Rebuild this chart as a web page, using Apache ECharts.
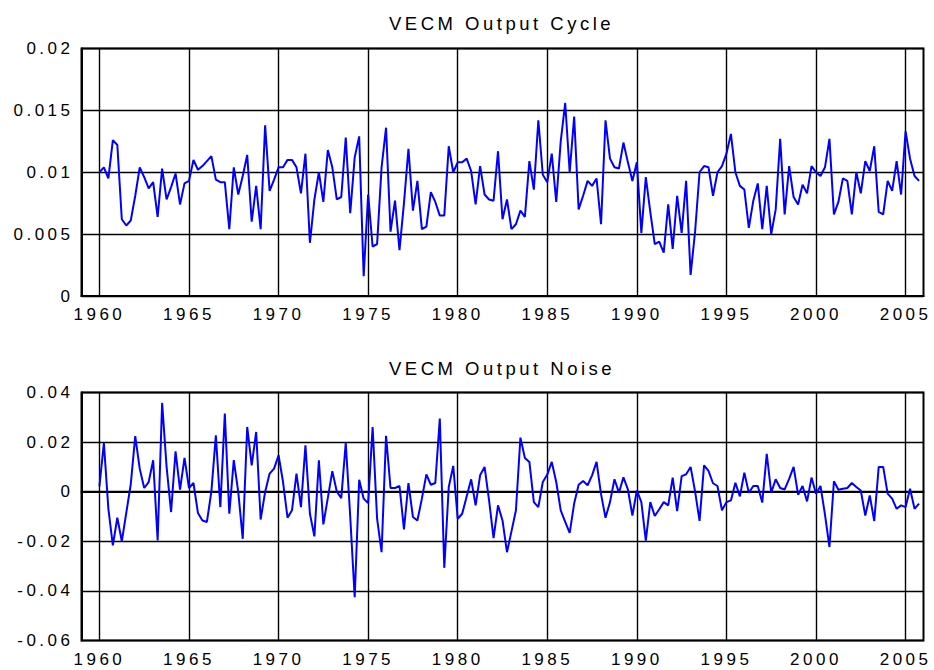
<!DOCTYPE html>
<html>
<head>
<meta charset="utf-8">
<title>VECM Output</title>
<script src="https://cdn.jsdelivr.net/npm/echarts@6/dist/echarts.min.js"></script>
<style>
	html, body { margin: 0; padding: 0; background: #fff; }
	#chart { width: 934px; height: 670px; }
	/* the original plot uses widely spaced glyphs */
	#chart text { letter-spacing: 3.5px; }
</style>
</head>
<body>
<div id="chart"></div>
<script>
// quarterly data, first point 1960Q1
var startYear = 1960;
var yearTicks = [1960, 1965, 1970, 1975, 1980, 1985, 1990, 1995, 2000, 2005];

// VECM output cycle
var cycle = [
	0.0100, 0.0104, 0.0095, 0.0126, 0.0122, 0.0062, 0.0057, 0.0061, 0.0081, 0.0104,
	0.0096, 0.0087, 0.0092, 0.0064, 0.0103, 0.0078, 0.0088, 0.0099, 0.0074, 0.0091,
	0.0093, 0.0110, 0.0102, 0.0105, 0.0109, 0.0113, 0.0094, 0.0092, 0.0092, 0.0054,
	0.0104, 0.0082, 0.0097, 0.0114, 0.0060, 0.0089, 0.0054, 0.0138, 0.0085, 0.0094,
	0.0104, 0.0104, 0.0110, 0.0110, 0.0104, 0.0083, 0.0115, 0.0043, 0.0078, 0.0100,
	0.0076, 0.0118, 0.0104, 0.0078, 0.0080, 0.0128, 0.0067, 0.0112, 0.0129, 0.0016,
	0.0082, 0.0040, 0.0042, 0.0104, 0.0136, 0.0052, 0.0077, 0.0037, 0.0075, 0.0119,
	0.0069, 0.0093, 0.0054, 0.0056, 0.0084, 0.0076, 0.0065, 0.0065, 0.0121, 0.0100,
	0.0108, 0.0108, 0.0111, 0.0101, 0.0074, 0.0105, 0.0082, 0.0078, 0.0077, 0.0117,
	0.0062, 0.0078, 0.0054, 0.0058, 0.0069, 0.0064, 0.0109, 0.0086, 0.0142, 0.0098,
	0.0092, 0.0115, 0.0076, 0.0125, 0.0156, 0.0100, 0.0145, 0.0070, 0.0081, 0.0093,
	0.0089, 0.0095, 0.0058, 0.0142, 0.0111, 0.0104, 0.0103, 0.0124, 0.0108, 0.0093,
	0.0108, 0.0051, 0.0096, 0.0068, 0.0042, 0.0044, 0.0035, 0.0074, 0.0038, 0.0081,
	0.0051, 0.0093, 0.0017, 0.0052, 0.0100, 0.0105, 0.0104, 0.0081, 0.0100, 0.0105,
	0.0115, 0.0131, 0.0100, 0.0089, 0.0086, 0.0055, 0.0077, 0.0091, 0.0054, 0.0089,
	0.0050, 0.0070, 0.0127, 0.0066, 0.0105, 0.0080, 0.0074, 0.0090, 0.0083, 0.0105,
	0.0100, 0.0097, 0.0104, 0.0127, 0.0066, 0.0076, 0.0095, 0.0093, 0.0066, 0.0100,
	0.0083, 0.0109, 0.0101, 0.0121, 0.0068, 0.0066, 0.0093, 0.0085, 0.0109, 0.0082,
	0.0133, 0.0111, 0.0097, 0.0093
];

// VECM output noise
var noise = [
	0.0022, 0.0196, -0.0069, -0.0216, -0.0105, -0.0200, -0.0085, 0.0030, 0.0224, 0.0093,
	0.0015, 0.0039, 0.0127, -0.0197, 0.0358, 0.0100, -0.0082, 0.0163, 0.0008, 0.0136,
	0.0015, 0.0035, -0.0086, -0.0116, -0.0122, 0.0001, 0.0227, -0.0062, 0.0315, -0.0089,
	0.0127, -0.0001, -0.0190, 0.0261, 0.0106, 0.0241, -0.0112, -0.0001, 0.0073, 0.0093,
	0.0147, 0.0039, -0.0105, -0.0075, 0.0073, -0.0062, 0.0187, -0.0089, -0.0180, 0.0127,
	-0.0132, -0.0025, 0.0083, 0.0001, -0.0026, 0.0197, -0.0100, -0.0425, 0.0048, -0.0028,
	-0.0046, 0.0261, -0.0109, -0.0244, 0.0225, 0.0015, 0.0015, 0.0023, -0.0152, 0.0035,
	-0.0102, -0.0116, -0.0028, 0.0070, 0.0028, 0.0035, 0.0295, -0.0307, 0.0019, 0.0104,
	-0.0109, -0.0089, -0.0019, 0.0050, -0.0055, 0.0066, 0.0100, -0.0035, -0.0187, -0.0055,
	-0.0116, -0.0244, -0.0160, -0.0075, 0.0218, 0.0136, 0.0120, -0.0042, -0.0062, 0.0039,
	0.0069, 0.0120, 0.0039, -0.0075, -0.0122, -0.0166, -0.0048, 0.0028, 0.0043, 0.0026,
	0.0066, 0.0120, -0.0010, -0.0105, -0.0042, 0.0050, -0.0004, 0.0058, 0.0009, -0.0096,
	0.0005, -0.0042, -0.0197, -0.0042, -0.0098, -0.0071, -0.0042, -0.0055, 0.0057, -0.0078,
	0.0063, 0.0070, 0.0100, 0.0001, -0.0118, 0.0106, 0.0084, 0.0034, 0.0023, -0.0075,
	-0.0042, -0.0035, 0.0036, -0.0019, 0.0077, -0.0004, 0.0023, 0.0023, -0.0044, 0.0153,
	-0.0004, 0.0050, 0.0015, 0.0009, 0.0052, 0.0100, -0.0012, 0.0023, -0.0039, 0.0057,
	-0.0008, 0.0023, -0.0092, -0.0223, 0.0042, 0.0008, 0.0012, 0.0015, 0.0035, 0.0019,
	0.0005, -0.0096, -0.0015, -0.0118, 0.0100, 0.0100, -0.0008, -0.0028, -0.0069, -0.0055,
	-0.0062, 0.0012, -0.0069, -0.0048
];

// pair each value with its date (year + quarter/4)
function toPairs(arr) {
	var out = [];
	for(var i = 0; i < arr.length; i++) {
		out.push([startYear + i / 4, arr[i]]);
	}
	return out;
}

var font = 'Liberation Sans';

function xAxisFor(idx) {
	return {
		type: 'value',
		gridIndex: idx,
		min: 1959,
		max: 2006,
		axisLine: { show: true, lineStyle: { color: '#000', width: 2 } },
		axisTick: { show: false, customValues: yearTicks },
		axisLabel: {
			customValues: yearTicks,
			formatter: function(v) { return String(v); }, // no thousands comma
			margin: 10,
			color: '#000',
			fontSize: 17,
			fontFamily: font
		},
		splitLine: { show: true, lineStyle: { color: '#000', width: 1.4 } }
	};
}

function yAxisFor(idx, min, max, step) {
	return {
		type: 'value',
		gridIndex: idx,
		min: min,
		max: max,
		interval: step,
		axisLine: { show: true, lineStyle: { color: '#000', width: 2 } },
		axisTick: { show: false },
		axisLabel: {
			margin: 8,
			color: '#000',
			fontSize: 17,
			fontFamily: font
		},
		splitLine: { show: true, lineStyle: { color: '#000', width: 1.4 } }
	};
}

var myChart = echarts.init(document.getElementById('chart'), null, { renderer: 'svg' });
var option = {
	animation: false,
	backgroundColor: '#fff',
	title: [{
		text: 'VECM Output Cycle',
		left: 384,
		top: 9,
		textStyle: { color: '#000', fontSize: 18.5, fontWeight: 'normal', fontFamily: font }
	}, {
		text: 'VECM Output Noise',
		left: 384,
		top: 354,
		textStyle: { color: '#000', fontSize: 18.5, fontWeight: 'normal', fontFamily: font }
	}],
	grid: [{
		left: 81.5,
		right: 10.5,
		top: 48.5,
		height: 247.5,
		show: true,
		borderColor: '#000',
		borderWidth: 2
	}, {
		left: 81.5,
		right: 10.5,
		top: 392.5,
		height: 248,
		show: true,
		borderColor: '#000',
		borderWidth: 2
	}],
	xAxis: [xAxisFor(0), xAxisFor(1)],
	yAxis: [
		yAxisFor(0, 0, 0.02, 0.005),
		yAxisFor(1, -0.06, 0.04, 0.02)
	],
	series: [{
		name: 'VECM Output Cycle',
		type: 'line',
		xAxisIndex: 0,
		yAxisIndex: 0,
		showSymbol: false,
		lineStyle: { color: '#0000ff', width: 2 },
		data: toPairs(cycle)
	}, {
		name: 'VECM Output Noise',
		type: 'line',
		xAxisIndex: 1,
		yAxisIndex: 1,
		showSymbol: false,
		lineStyle: { color: '#0000ff', width: 2 },
		data: toPairs(noise)
	}]
};
myChart.setOption(option);
</script>
</body>
</html>
